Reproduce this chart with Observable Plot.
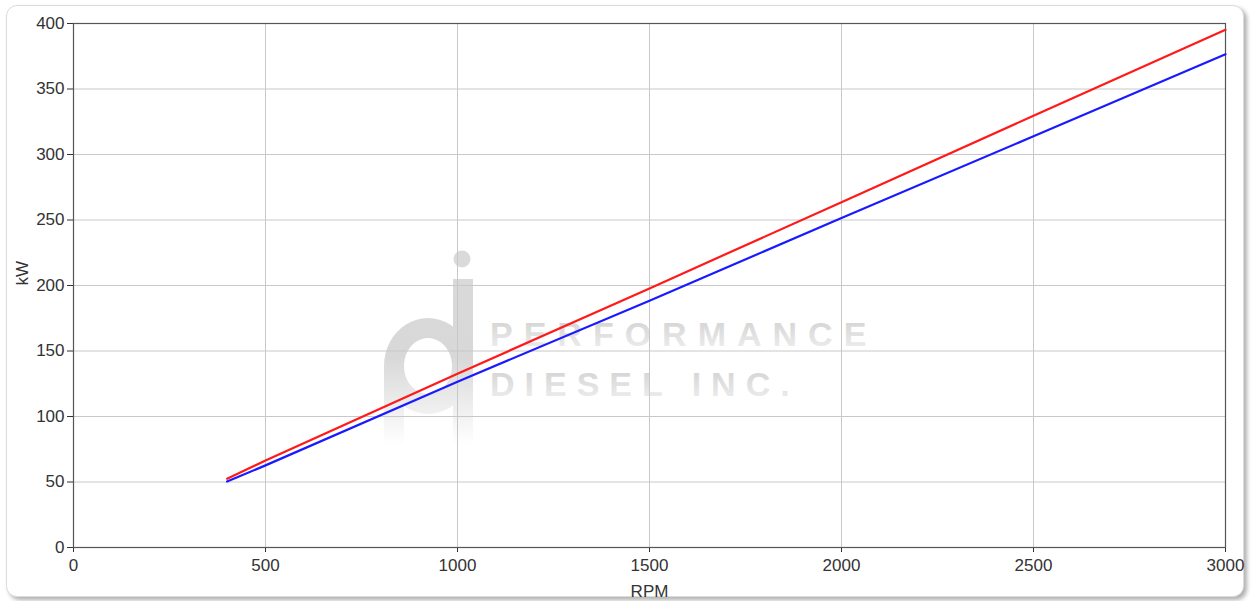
<!DOCTYPE html>
<html>
<head>
<meta charset="utf-8">
<script src="https://cdn.jsdelivr.net/npm/d3@7"></script>
<script src="https://cdn.jsdelivr.net/npm/@observablehq/plot@0.6"></script>
<style>
  html, body { margin: 0; padding: 0; background: #fff; width: 1251px; height: 601px; overflow: hidden; }
  #box { position: absolute; left: 6px; top: 5px; width: 1236px; height: 590px; border: 1px solid #dcdcdc; border-radius: 11px; box-shadow: 3px 3px 4px #b0b0b0; background: #fff; }
  #chart { position: absolute; left: 0; top: 0; }
</style>
</head>
<body>
<div id="box"></div>
<div id="chart"></div>
<script>
const rpm = [400, 500, 1000, 1500, 2000, 2500, 3000];
const redKW = [52.5, 66.4, 132.6, 197.8, 263.6, 329.6, 395.2];
const blueKW = [50.3, 62.7, 126.6, 188.4, 251.5, 313.9, 376.6];
const xTicks = [0, 500, 1000, 1500, 2000, 2500, 3000];
const yTicks = [0, 50, 100, 150, 200, 250, 300, 350, 400];

const redData = rpm.map((r, i) => ({rpm: r, kw: redKW[i]}));
const blueData = rpm.map((r, i) => ({rpm: r, kw: blueKW[i]}));

const plot = Plot.plot({
  width: 1251,
  height: 601,
  marginLeft: 73,
  marginRight: 26,
  marginTop: 23,
  marginBottom: 54,
  style: {fontFamily: "'Liberation Sans', Arial, sans-serif", fontSize: "17px", background: "transparent", color: "#333"},
  x: {domain: [0, 3000]},
  y: {domain: [0, 400]},
  marks: [
    Plot.gridX(xTicks, {stroke: "#c8c8c8", strokeOpacity: 1}),
    Plot.gridY(yTicks, {stroke: "#c8c8c8", strokeOpacity: 1}),
    Plot.axisX(xTicks, {tickSize: 5, tickPadding: 6, tickFormat: d => String(d), label: null, fontSize: 17}),
    Plot.axisY(yTicks, {tickSize: 6, tickPadding: 3, tickFormat: d => String(d), label: null, fontSize: 17}),
    Plot.text(["RPM"], {frameAnchor: "bottom", dy: 49, fontSize: 17, fill: "#333"}),
    Plot.text(["kW"], {frameAnchor: "left", dx: -51, rotate: -90, fontSize: 17, fill: "#333"}),
    Plot.frame({stroke: "#555", strokeWidth: 1.2}),
    Plot.line(redData, {x: "rpm", y: "kw", stroke: "#ff1a1a", strokeWidth: 2.2}),
    Plot.line(blueData, {x: "rpm", y: "kw", stroke: "#1a1aff", strokeWidth: 2.2})
  ]
});
document.getElementById("chart").appendChild(plot);

// watermark behind everything
const svg = d3.select(plot);
const defs = svg.insert("defs", ":first-child");
const grad = defs.append("linearGradient").attr("id", "wm").attr("x1", 0).attr("y1", 0).attr("x2", 0).attr("y2", 1);
grad.append("stop").attr("offset", "0%").attr("stop-color", "#d0d0d0");
grad.append("stop").attr("offset", "100%").attr("stop-color", "#f0f0f0");
const lg = defs.append("linearGradient").attr("id", "wmlogo").attr("gradientUnits", "userSpaceOnUse").attr("x1", 0).attr("y1", 250).attr("x2", 0).attr("y2", 445);
lg.append("stop").attr("offset", "0%").attr("stop-color", "#dadada");
lg.append("stop").attr("offset", "55%").attr("stop-color", "#d8d8d8");
lg.append("stop").attr("offset", "100%").attr("stop-color", "#ffffff");
const wm = svg.insert("g", "defs + *").attr("font-family", "'Liberation Sans', Arial, sans-serif").attr("font-weight", "bold").attr("text-anchor", "start");
const logo = wm.append("g").attr("fill", "url(#wmlogo)");
logo.append("circle").attr("cx", 462).attr("cy", 259).attr("r", 8.5);
logo.append("rect").attr("x", 453).attr("y", 279).attr("width", 20).attr("height", 166);
logo.append("path").attr("fill-rule", "evenodd")
  .attr("d", "M428,318 a44,48 0 1,0 0.01,0 Z M428,338 a24,28 0 1,0 0.01,0 Z");
logo.append("rect").attr("x", 384).attr("y", 366).attr("width", 20).attr("height", 80);
wm.append("text").attr("fill", "url(#wm)").attr("x", 490).attr("y", 346).attr("font-size", 34).attr("letter-spacing", 11).text("PERFORMANCE");
wm.append("text").attr("fill", "url(#wm)").attr("x", 490).attr("y", 396).attr("font-size", 34).attr("letter-spacing", 10).text("DIESEL INC.");
</script>
</body>
</html>
